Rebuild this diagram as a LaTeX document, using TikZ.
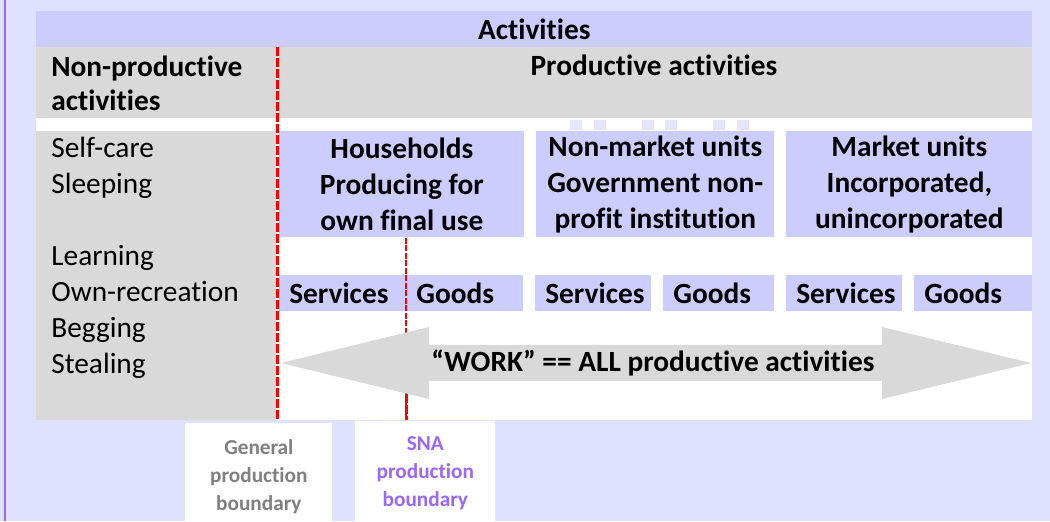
\documentclass[tikz,border=0pt]{standalone}
\usepackage{fontspec}
\setmainfont[Ligatures=NoCommon]{Carlito}
\usetikzlibrary{positioning, calc}
\definecolor{pagebg}{HTML}{E0E0FF}
\definecolor{unitblue}{HTML}{CCCCFF}
\definecolor{bandgray}{HTML}{D9D9D9}
\definecolor{snapurple}{HTML}{9966FF}
\definecolor{gengray}{HTML}{7F7F7F}
\newcommand{\pxu}{0.2mm} % one pixel of the slide
\newcommand{\bigfont}{\fontsize{16.7}{20.4}\selectfont}
\newcommand{\smallfont}{\fontsize{12.1}{15.9}\selectfont\bfseries}
\tikzset{every node/.style={inner sep=0pt, font=\bigfont}, % no padding, slide text size
        headband/.style={ % top "Activities" strip
            fill=unitblue, anchor=north west,
            minimum width=996*\pxu, minimum height=36*\pxu,
            font=\bigfont\bfseries},
        listitem/.style={anchor=base west}, % left column entries
        unitbox/.style={ % the three kinds of producing units
            fill=unitblue, anchor=north west, align=center,
            minimum height=106*\pxu, font=\bigfont\bfseries},
        subbox/.style={ % Services / Goods cells, #1 = width in pixels
            fill=unitblue, anchor=north west, align=left,
            minimum height=36*\pxu, minimum width=#1*\pxu,
            text width=#1*\pxu-20*\pxu, inner xsep=10*\pxu,
            font=\bigfont\bfseries},
        labelbox/.style={fill=white, anchor=north west}, % boundary captions below the table
        labeltext/.style={align=center, font=\smallfont},
        genline/.style={draw=red, line width=0.6mm, dash pattern=on 1.8mm off 0.4mm},
        snaline/.style={draw=red, line width=0.3mm, dash pattern=on 1.2mm off 0.3mm}
        }

\begin{document}
\begin{tikzpicture}[x=\pxu, y=-\pxu]
    % slide and table background
    \fill[pagebg] (0,0) rectangle (1050,521);
    \fill[snapurple] (4,0) rectangle (6,521);
    \fill[white] (36,11) rectangle (1032,420);
    \fill[bandgray] (36,47) rectangle (1032,118);
    \fill[bandgray] (36,131) rectangle (276,420);
    \foreach \xm in {570,594,642,665,713,737}
        \fill[unitblue!50] (\xm,120) rectangle ++(12,10);

    \node[headband] (act) at (36,11) {Activities};
    \node[anchor=west, align=left, font=\fontsize{16.7}{19.3}\selectfont\bfseries] (nonprod) at (51,83) {Non-productive\\activities};
    \node[anchor=base, font=\bigfont\bfseries] (prod) at (654,76) {Productive activities};

    \node[listitem] (selfcare) at (51,158) {Self-care};
    \node[listitem] (sleep)    at (51,194) {Sleeping};
    \node[listitem] (learn)    at (51,266) {Learning};
    \node[listitem] (recreate) at (51,302) {Own-recreation};
    \node[listitem] (beg)      at (51,338) {Begging};
    \node[listitem] (steal)    at (51,374) {Stealing};

    \node[unitbox, minimum width=245*\pxu] (house)     at (279,131) {Households\\Producing for\\own final use};
    \node[unitbox, minimum width=238*\pxu] (nonmarket) at (536,131) {Non-market units\\Government non-\\profit institution};
    \node[unitbox, minimum width=246*\pxu] (market)    at (786,131) {Market units\\Incorporated,\\unincorporated};

    \node[subbox=127] (hserv) at (279,275) {Services};
    \node[subbox=117] (hgood) at (406,275) {Goods};
    \node[subbox=116] (nserv) at (535,275) {Services};
    \node[subbox=111] (ngood) at (663,275) {Goods};
    \node[subbox=116] (mserv) at (786,275) {Services};
    \node[subbox=118] (mgood) at (914,275) {Goods};

    % SNA boundary, partly hidden by the arrow
    \coordinate (snatop) at (house.south -| hgood.west);
    \coordinate (snamid) at (406,394);
    \coordinate (snabot) at (406,420);
    \draw[snaline] (snatop) -- (snabot);
    \draw[genline] (snamid) -- (snabot);

    % work arrow
    \fill[bandgray] (281,363) -- (429,327) -- (429,345) -- (882,345) -- (882,327)
        -- (1031,363) -- (882,399) -- (882,381) -- (429,381) -- (429,399) -- cycle;
    \node[anchor=base, font=\bigfont\bfseries] (work) at (653,372) {“WORK” == ALL productive activities};

    % general boundary
    \coordinate (gentop) at (277,47);
    \coordinate (genbot) at (277,420);
    \draw[genline] (gentop) -- (genbot);

    \node[labelbox, minimum width=147*\pxu, minimum height=98*\pxu] (genlabel) at (185,423) {};
    \node[labeltext, text=gengray] (gentext) at ($(genlabel.center)+(0,4)$) {General\\production\\boundary};
    \node[labelbox, minimum width=140*\pxu, minimum height=100*\pxu] (snalabel) at (355,421) {};
    \node[labeltext, text=snapurple] (snatext) at ($(snalabel.center)+(0,2)$) {SNA\\production\\boundary};
\end{tikzpicture}
\end{document}
